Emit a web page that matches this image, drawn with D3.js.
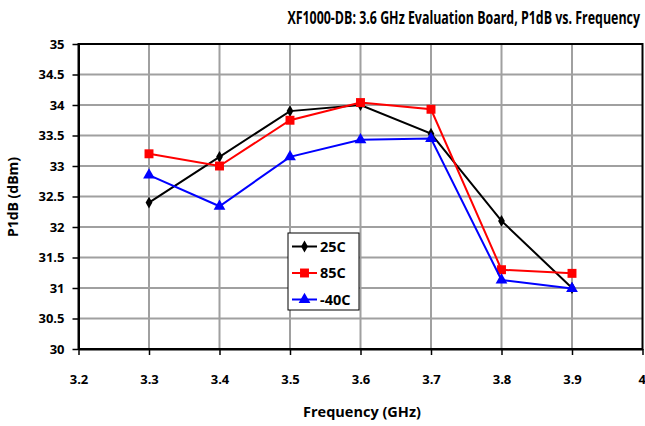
<!DOCTYPE html>
<html>
<head>
<meta charset="utf-8">
<script src="https://cdn.jsdelivr.net/npm/d3@7/dist/d3.min.js"></script>
<style>
  html, body { margin: 0; padding: 0; background: #fff; }
  svg { display: block; }
  text { font-family: "Open Sans", "DejaVu Sans", sans-serif; font-weight: 700; fill: #000; }
</style>
</head>
<body>
<svg id="chart" width="645" height="426"></svg>
<script>
// Frequency points (GHz) and P1dB readings (dBm) per temperature
const frequencies = [3.3, 3.4, 3.5, 3.6, 3.7, 3.8, 3.9];
const p1dB_25C  = [32.4, 33.15, 33.9, 34.0, 33.53, 32.1, 31.0];
const p1dB_85C  = [33.2, 33.0, 33.75, 34.04, 33.93, 31.3, 31.24];
const p1dB_m40C = [32.85, 32.34, 33.15, 33.43, 33.45, 31.13, 30.99];
const seriesNames = ["25C", "85C", "-40C"];
const xTicks = [3.2, 3.3, 3.4, 3.5, 3.6, 3.7, 3.8, 3.9, 4.0];
const yTicks = [30, 30.5, 31, 31.5, 32, 32.5, 33, 33.5, 34, 34.5, 35];

const series = [
  { name: seriesNames[0], values: p1dB_25C,  color: "#000000", marker: d3.symbolDiamond,  size: 40 },
  { name: seriesNames[1], values: p1dB_85C,  color: "#ff0000", marker: d3.symbolSquare,   size: 80 },
  { name: seriesNames[2], values: p1dB_m40C, color: "#0000ff", marker: d3.symbolTriangle, size: 60 }
];

const svg = d3.select("#chart");
const plot = { left: 78.5, right: 642.5, top: 44, bottom: 349 };

const x = d3.scaleLinear().domain([3.2, 4.0]).range([plot.left, plot.right]);
const y = d3.scaleLinear().domain([30, 35]).range([plot.bottom, plot.top]);

// gridlines
const grid = svg.append("g");
grid.selectAll(".gx").data(xTicks.slice(1, -1)).join("line")
  .attr("x1", d => x(d)).attr("x2", d => x(d))
  .attr("y1", plot.top).attr("y2", plot.bottom)
  .attr("stroke", "#a0a0a0").attr("stroke-width", 2);
grid.selectAll(".gy").data(yTicks.slice(1, -1)).join("line")
  .attr("x1", plot.left).attr("x2", plot.right)
  .attr("y1", d => y(d)).attr("y2", d => y(d))
  .attr("stroke", "#a0a0a0").attr("stroke-width", 2);

// plot frame
svg.append("rect")
  .attr("x", plot.left).attr("y", plot.top)
  .attr("width", plot.right - plot.left).attr("height", plot.bottom - plot.top)
  .attr("fill", "none").attr("stroke", "#000").attr("stroke-width", 2);

// axes
const xAxis = svg.append("g")
  .attr("transform", `translate(0,${plot.bottom})`)
  .call(d3.axisBottom(x).tickValues(xTicks).tickFormat(d => d === 4 ? "4" : d3.format(".1f")(d)).tickSize(6).tickSizeOuter(0).tickPadding(20));
const yAxis = svg.append("g")
  .attr("transform", `translate(${plot.left},0)`)
  .call(d3.axisLeft(y).tickValues(yTicks).tickFormat(d => d3.format("~g")(d)).tickSize(6).tickSizeOuter(0).tickPadding(8));
[xAxis, yAxis].forEach(a => {
  a.attr("font-family", null).attr("font-size", null);
  a.select(".domain").attr("stroke", "#000").attr("stroke-width", 2);
  a.selectAll(".tick line").attr("stroke", "#000").attr("stroke-width", 1.5);
  a.selectAll(".tick text").style("font-size", "13px");
});
// the last x label sits at the window edge
xAxis.selectAll(".tick text").filter(d => d === 4).attr("text-anchor", "end").attr("x", 3);

// series lines and markers
const line = d3.line().x((d, i) => x(frequencies[i])).y(d => y(d));
series.forEach(s => {
  svg.append("path").datum(s.values)
    .attr("d", line).attr("fill", "none")
    .attr("stroke", s.color).attr("stroke-width", 2);
  svg.append("g").selectAll("path").data(s.values).join("path")
    .attr("transform", (d, i) => `translate(${x(frequencies[i])},${y(d)})`)
    .attr("d", d3.symbol().type(s.marker).size(s.size))
    .attr("fill", s.color);
});

// legend
const lg = svg.append("g").attr("transform", "translate(288,233)");
lg.append("rect").attr("width", 71).attr("height", 77)
  .attr("fill", "#fff").attr("stroke", "#000").attr("stroke-width", 1);
series.forEach((s, i) => {
  const cy = 13.5 + i * 26.5;
  lg.append("line").attr("x1", 4).attr("x2", 29).attr("y1", cy).attr("y2", cy)
    .attr("stroke", s.color).attr("stroke-width", 2);
  lg.append("path").attr("transform", `translate(16.5,${cy})`)
    .attr("d", d3.symbol().type(s.marker).size(s.size)).attr("fill", s.color);
  lg.append("text").attr("x", 32).attr("y", cy).attr("dy", "0.36em")
    .style("font-size", "14.5px").text(s.name);
});

// chart title, condensed horizontally so it ends at the right margin
const titleG = svg.append("g");
const title = titleG.append("text").attr("x", 0).attr("y", 0).attr("text-anchor", "end")
  .style("font-size", "17px")
  .text("XF1000-DB: 3.6 GHz Evaluation Board, P1dB vs. Frequency");
const tw = title.node().getComputedTextLength();
titleG.attr("transform", `translate(640,24) scale(${Math.min(1, 353 / tw).toFixed(4)},1)`);

svg.append("text").attr("x", 362).attr("y", 417).attr("text-anchor", "middle")
  .style("font-size", "14.5px").text("Frequency (GHz)");
svg.append("text").attr("transform", "translate(18,197) rotate(-90)").attr("text-anchor", "middle")
  .style("font-size", "14px").text("P1dB (dBm)");
</script>
</body>
</html>
